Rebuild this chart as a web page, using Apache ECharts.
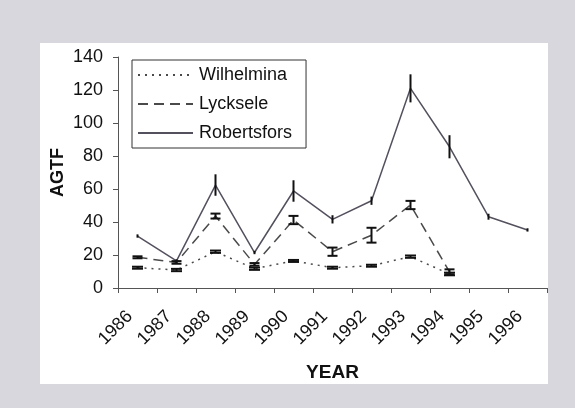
<!DOCTYPE html>
<html>
<head>
<meta charset="utf-8">
<script src="https://cdn.jsdelivr.net/npm/echarts@6/dist/echarts.min.js"></script>
<style>
  html, body { margin: 0; padding: 0; background: #d9d7de; }
  #panel { position: absolute; left: 40px; top: 43px; width: 508px; height: 341px; background: #fff; }
  #chart { position: absolute; left: 0; top: 0; width: 575px; height: 408px; }
</style>
</head>
<body>
<div id="panel"></div>
<div id="chart"></div>
<script>
// years on the category axis
const years = ['1986', '1987', '1988', '1989', '1990', '1991', '1992', '1993', '1994', '1995', '1996']

// mean AGTF per year
const wilhelmina = [12.3, 10.9, 22, 11.7, 16.4, 12.3, 13.5, 19, 8.5]
const lycksele = [18.6, 15.5, 43.6, 14.3, 41.2, 22, 32, 50.3, 9.8]
const robertsfors = [31.5, 16.4, 62.4, 21.5, 58.8, 41.6, 52.9, 121, 85.6, 43.2, 35.2]

// +/- error per year
const wilhelminaErr = [0.6, 0.7, 0.7, 0.7, 0.6, 0.6, 0.6, 0.7, 0.8]
const lyckseleErr = [0.6, 0.8, 1.5, 0.8, 2.5, 2.5, 4.5, 2.5, 1.5]
const robertsforsErr = [1, 1, 6.5, 1, 6.5, 2.5, 2.5, 8.5, 7, 1.8, 1]

const lineColor = '#4a4a4a'
const fontFamily = 'Liberation Sans, Arial, sans-serif'

function errData (vals, errs) {
  return vals.map((v, i) => [i, v - errs[i], v + errs[i]])
}

// error bar drawn with the axis scales, cap = half width of the cap in px
function errSeries (vals, errs, cap, width) {
  return {
    type: 'custom',
    silent: true,
    z: 5,
    data: errData(vals, errs),
    renderItem (params, api) {
      let lo = api.coord([api.value(0), api.value(1)])
      let hi = api.coord([api.value(0), api.value(2)])
      let style = { stroke: '#111', lineWidth: width }
      let children = [
        { type: 'line', shape: { x1: lo[0], y1: lo[1], x2: hi[0], y2: hi[1] }, style: style }
      ]
      if (cap > 0) {
        children.push({ type: 'line', shape: { x1: lo[0] - cap, y1: lo[1], x2: lo[0] + cap, y2: lo[1] }, style: style })
        children.push({ type: 'line', shape: { x1: hi[0] - cap, y1: hi[1], x2: hi[0] + cap, y2: hi[1] }, style: style })
      }
      return { type: 'group', children: children }
    }
  }
}

let myChart = echarts.init(document.getElementById('chart'))
myChart.setOption({
  animation: false,
  textStyle: { fontFamily: fontFamily },
  grid: { left: 118, right: 28, top: 57, bottom: 120 },
  legend: {
    orient: 'vertical',
    left: 132,
    top: 60,
    padding: [6, 14, 6, 5],
    itemWidth: 55,
    itemHeight: 14,
    itemGap: 11,
    borderColor: '#333',
    borderWidth: 1,
    itemStyle: { opacity: 0 },
    textStyle: { fontSize: 18, color: '#111', fontFamily: fontFamily, padding: [0, 0, 0, 1] },
    data: ['Wilhelmina', 'Lycksele', 'Robertsfors']
  },
  xAxis: {
    type: 'category',
    data: years,
    boundaryGap: true,
    name: 'YEAR',
    nameLocation: 'middle',
    nameGap: 75,
    nameMoveOverlap: false,
    nameTextStyle: { fontSize: 19, fontWeight: 'bold', color: '#111' },
    axisLine: { lineStyle: { color: '#555', width: 1 } },
    axisTick: { show: true, interval: 0, length: 5, lineStyle: { color: '#555' } },
    axisLabel: { rotate: 45, interval: 0, fontSize: 18, color: '#111', margin: 18, padding: [0, 11, 0, 0] },
    splitLine: { show: false }
  },
  yAxis: {
    type: 'value',
    min: 0,
    max: 140,
    interval: 20,
    name: 'AGTF',
    nameLocation: 'middle',
    nameGap: 51,
    nameMoveOverlap: false,
    nameRotate: 90,
    nameTextStyle: { fontSize: 18, fontWeight: 'bold', color: '#111' },
    axisLine: { show: true, lineStyle: { color: '#555', width: 1 } },
    axisTick: { show: true, length: 5, lineStyle: { color: '#555' } },
    axisLabel: { fontSize: 18, color: '#111', margin: 15 },
    splitLine: { show: false }
  },
  series: [
    {
      name: 'Wilhelmina',
      type: 'line',
      data: wilhelmina,
      symbol: 'none',
      color: lineColor,
      lineStyle: { color: lineColor, width: 1.5, type: [2, 5] }
    },
    {
      name: 'Lycksele',
      type: 'line',
      data: lycksele,
      symbol: 'none',
      color: lineColor,
      lineStyle: { color: lineColor, width: 1.5, type: [10, 6] }
    },
    {
      name: 'Robertsfors',
      type: 'line',
      data: robertsfors,
      symbol: 'none',
      color: '#55505e',
      lineStyle: { color: '#55505e', width: 1.5, type: 'solid' }
    },
    errSeries(wilhelmina, wilhelminaErr, 5.5, 2),
    errSeries(lycksele, lyckseleErr, 5, 2),
    errSeries(robertsfors, robertsforsErr, 0, 2)
  ]
})
</script>
</body>
</html>
